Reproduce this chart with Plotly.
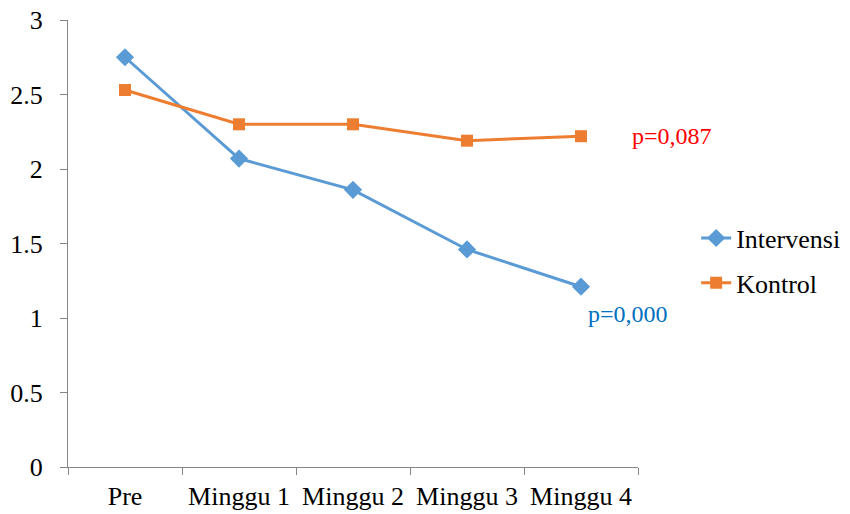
import plotly.graph_objects as go

categories = ["Pre", "Minggu 1", "Minggu 2", "Minggu 3", "Minggu 4"]
intervensi = [2.75, 2.07, 1.86, 1.46, 1.21]
kontrol = [2.53, 2.30, 2.30, 2.19, 2.22]
y_ticks = [0, 0.5, 1, 1.5, 2, 2.5, 3]
y_tick_labels = ["0", "0.5", "1", "1.5", "2", "2.5", "3"]

FONT = "Liberation Serif"
AXIS = "#868686"

fig = go.Figure()
fig.add_trace(go.Scatter(
    x=categories, y=intervensi, name="Intervensi", mode="lines+markers",
    line=dict(color="#5B9BD5", width=3),
    marker=dict(symbol="diamond", size=14, color="#5B9BD5"),
    legendgroup="a",
))
fig.add_trace(go.Scatter(
    x=categories, y=kontrol, name="Kontrol", mode="lines+markers",
    line=dict(color="#ED7D31", width=3),
    marker=dict(symbol="square", size=12, color="#ED7D31"),
    legendgroup="b",
))

fig.add_annotation(x=1.06, y=2.22, xref="paper", yref="y", text="p=0,087",
                   xanchor="center", yanchor="middle",
                   showarrow=False, font=dict(family=FONT, size=24, color="#FF0000"))
fig.add_annotation(x=0.982, y=1.027, xref="paper", yref="y", text="p=0,000",
                   xanchor="center", yanchor="middle",
                   showarrow=False, font=dict(family=FONT, size=24, color="#0070C0"))

fig.update_layout(
    width=850, height=514,
    margin=dict(l=68, r=212, t=20, b=47),
    paper_bgcolor="white", plot_bgcolor="white",
    font=dict(family=FONT, size=26, color="black"),
    showlegend=True,
    legend=dict(xref="container", yref="container", x=0.819, y=0.493,
                xanchor="left", yanchor="middle",
                traceorder="grouped", tracegroupgap=8,
                font=dict(family=FONT, size=26, color="black"),
                itemwidth=30),
    xaxis=dict(type="category", range=[-0.5, 4.5], showgrid=False, automargin=False,
               showline=True, linecolor=AXIS, linewidth=1,
               ticks="outside", ticklen=7, tickcolor=AXIS, tickson="boundaries",
               tickfont=dict(family=FONT, size=26, color="black"), ticklabelstandoff=6),
    yaxis=dict(range=[0, 3], tickvals=y_ticks, ticktext=y_tick_labels, showgrid=False,
               automargin=False,
               showline=True, linecolor=AXIS, linewidth=1, zeroline=False,
               ticks="outside", ticklen=7, tickcolor=AXIS,
               tickfont=dict(family=FONT, size=26, color="black"), ticklabelstandoff=12),
)

fig.write_html("out.html", config={"displayModeBar": False},
               post_script="document.body.style.margin='0';")
